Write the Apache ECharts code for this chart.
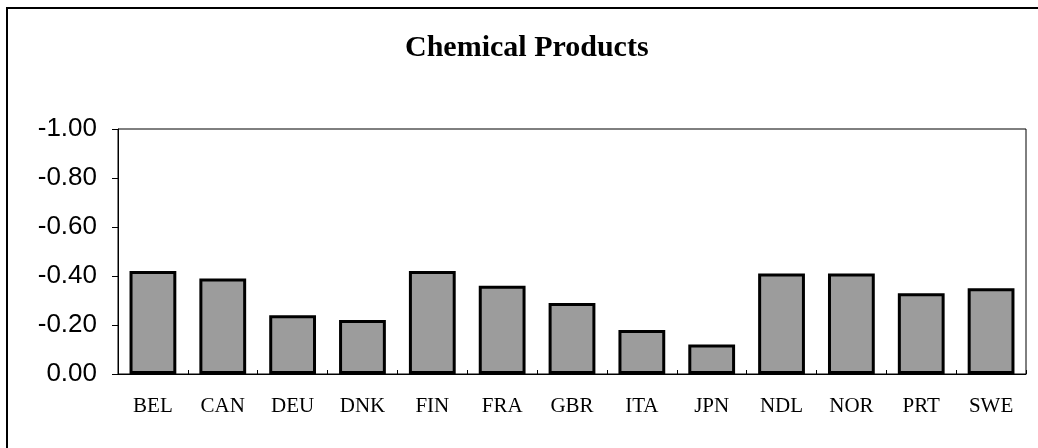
<!DOCTYPE html>
<html>
<head>
<meta charset="utf-8">
<script src="https://cdn.jsdelivr.net/npm/echarts@6/dist/echarts.min.js"></script>
<style>
  html, body { margin: 0; padding: 0; background: #fff; }
  #chart { width: 1038px; height: 448px; }
</style>
</head>
<body>
<div id="chart"></div>
<script>
var categories = ["BEL", "CAN", "DEU", "DNK", "FIN", "FRA", "GBR", "ITA", "JPN", "NDL", "NOR", "PRT", "SWE"];
var values = [-0.42, -0.39, -0.24, -0.22, -0.42, -0.36, -0.29, -0.18, -0.12, -0.41, -0.41, -0.33, -0.35];
var chartTitle = "Chemical Products";

var myChart = echarts.init(document.getElementById("chart"));
myChart.setOption({
    animation: false,
    title: {
        text: chartTitle,
        left: 400,
        top: 28,
        textStyle: {
            fontFamily: "Liberation Serif",
            fontWeight: "bold",
            fontSize: 30,
            color: "#000"
        }
    },
    graphic: [{
        type: "rect",
        shape: { x: 7, y: 8, width: 1060, height: 480 },
        style: { fill: "none", stroke: "#000", lineWidth: 2 }
    }],
    grid: {
        left: 118,
        right: 12,
        top: 129,
        bottom: 74,
        show: true,
        borderColor: "#000",
        borderWidth: 1
    },
    xAxis: {
        type: "category",
        data: categories,
        axisLine: { lineStyle: { color: "#000", width: 1 } },
        axisTick: { show: true, inside: true, length: 4, lineStyle: { color: "#000" } },
        axisLabel: {
            fontFamily: "Liberation Serif",
            fontSize: 21,
            color: "#000",
            margin: 22
        }
    },
    yAxis: {
        type: "value",
        min: -1,
        max: 0,
        interval: 0.2,
        inverse: true,
        splitLine: { show: false },
        axisLine: { show: true, lineStyle: { color: "#000", width: 1 } },
        axisTick: { show: true, length: 6, lineStyle: { color: "#000" } },
        axisLabel: {
            fontFamily: "Liberation Sans",
            fontSize: 26,
            color: "#000",
            margin: 21,
            formatter: function (v) { return v.toFixed(2); }
        }
    },
    series: [{
        type: "bar",
        data: values,
        barCategoryGap: "33%",
        itemStyle: {
            color: "#9c9c9c",
            borderColor: "#000",
            borderWidth: 3
        }
    }]
});
</script>
</body>
</html>
